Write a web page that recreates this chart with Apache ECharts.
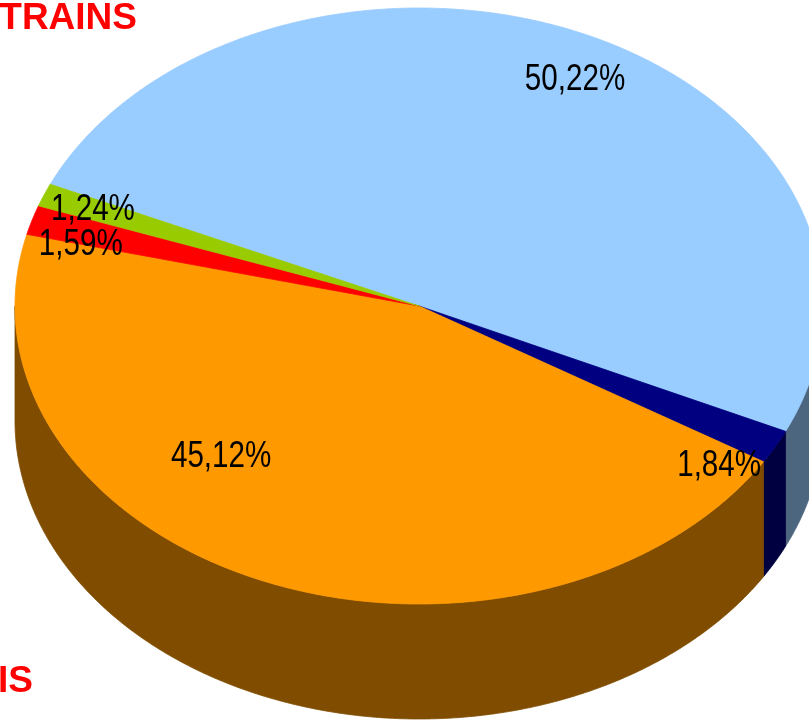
<!DOCTYPE html>
<html><head><meta charset="utf-8">
<script src="https://cdn.jsdelivr.net/npm/echarts@6/dist/echarts.min.js"></script>
<style>html,body{margin:0;padding:0;background:#fff}#c{width:809px;height:720px}</style>
</head><body><div id="c"></div>
<script>
// ---- data ----
const categories = ['Catégorie A', 'Catégorie B', 'Catégorie C', 'Catégorie D', 'Catégorie E'];
const values = [50.22, 1.84, 45.12, 1.59, 1.24];
const titleTop = 'TRAINS';
const titleBottom = 'IS';

// ---- styles / layout ----
const topColors = ['#99CCFF', '#000080', '#FF9900', '#FF0000', '#99CC00'];
const sideColors = ['#4C6680', '#000040', '#7F4C00', '#7F0000', '#4C6600'];
const CX = 419, CY = 306, RX = 404, RY = 298, DEPTH = 115, START = 204.1;
// label placement: [angle offset from slice middle (deg), radius factor]
const labelPlace = [[2.5, 0.851], [7.7, 0.917], [21.3, 0.705], [-3.0, 0.862], [-0.1, 0.869]];
const labelFont = '37px "Liberation Sans", Arial, sans-serif';
const labelScaleX = 0.8;

const total = values.reduce((a, b) => a + b, 0);
const fmt = v => v.toFixed(2).replace('.', ',') + '%';

function pt(t, dz) {
  const r = t * Math.PI / 180;
  return [CX + RX * Math.cos(r), CY + RY * Math.sin(r) + dz];
}
function arc(a, b, dz) {
  const n = Math.max(2, Math.ceil((b - a) / 0.4));
  const out = [];
  for (let s = 0; s <= n; s++) out.push(pt(a + (b - a) * s / n, dz));
  return out;
}

function renderItem(params, api) {
  const i = params.dataIndex;
  let startT = START;
  for (let k = 0; k < i; k++) startT += values[k] / total * 360;
  const v = api.value(1);
  const span = v / total * 360;
  const endT = startT + span;
  const children = [];
  // outer wall (front half only)
  for (const base of [0, 360, 720]) {
    const a = Math.max(startT, base), b = Math.min(endT, base + 180);
    if (b > a) {
      const pts = arc(a, b, 0).concat(arc(a, b, DEPTH).reverse());
      children.push({ type: 'polygon', shape: { points: pts },
        style: { fill: sideColors[i], stroke: sideColors[i], lineWidth: 0.8 }, z2: 1 });
    }
  }
  // top face
  const topPts = [[CX, CY]].concat(arc(startT, endT, 0));
  children.push({ type: 'polygon', shape: { points: topPts },
    style: { fill: topColors[i], stroke: topColors[i], lineWidth: 0.8 }, z2: 10 });
  // label
  const lp = labelPlace[i];
  const mid = (startT + endT) / 2 + lp[0];
  const r = mid * Math.PI / 180;
  children.push({ type: 'text', x: CX + RX * lp[1] * Math.cos(r), y: CY + RY * lp[1] * Math.sin(r),
    scaleX: labelScaleX,
    style: { text: fmt(v), font: labelFont, fill: '#000', align: 'center', verticalAlign: 'middle' }, z2: 20 });
  return { type: 'group', children };
}

const chart = echarts.init(document.getElementById('c'), null, { renderer: 'canvas' });
chart.setOption({
  animation: false,
  backgroundColor: '#fff',
  series: [{
    type: 'custom',
    coordinateSystem: 'none',
    renderItem,
    data: values.map((v, i) => ({ name: categories[i], value: [i, v] }))
  }],
  graphic: [
    { type: 'text', right: 809 - 137, top: 0, z: 100,
      style: { text: titleTop, font: 'bold 37px "Liberation Sans", Arial, sans-serif', fill: '#FF0000' } },
    { type: 'text', right: 809 - 33, top: 663, z: 100,
      style: { text: titleBottom, font: 'bold 37px "Liberation Sans", Arial, sans-serif', fill: '#FF0000' } }
  ]
});
</script>
</body></html>
